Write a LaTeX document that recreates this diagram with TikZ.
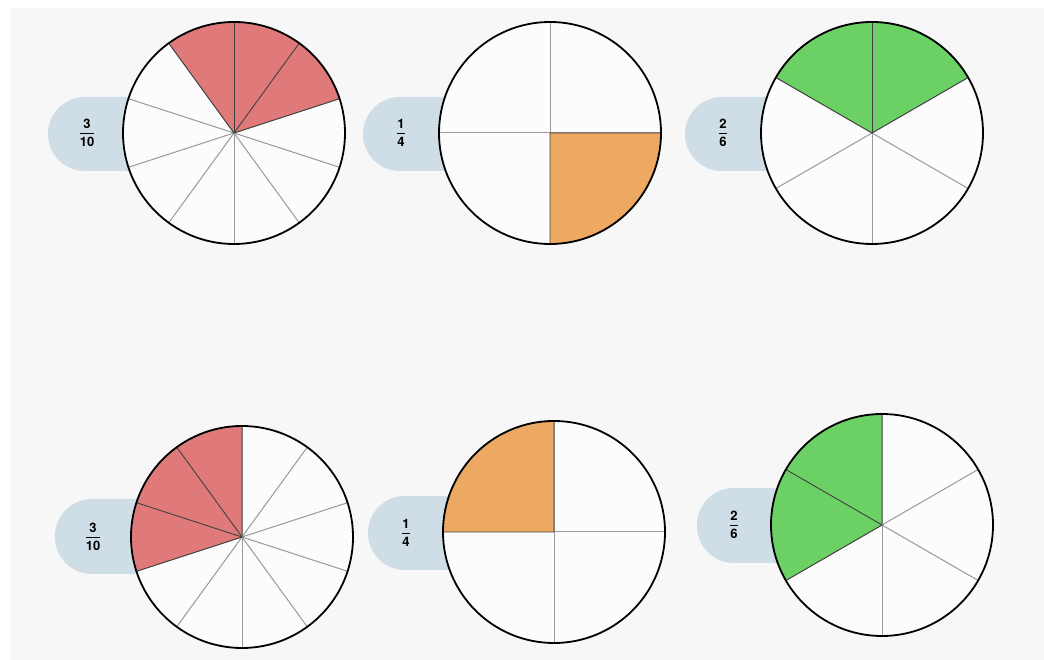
\documentclass[tikz,border=0pt]{standalone}
\usepackage{amsmath}
\usepackage{fontspec}
\setmainfont{TeX Gyre Heros}
\usepackage{tikz}

\definecolor{panel}{HTML}{F7F7F7}
\definecolor{pillblue}{HTML}{CFDDE6}
\definecolor{redpart}{HTML}{E07A7A}
\definecolor{orangepart}{HTML}{EDA862}
\definecolor{greenpart}{HTML}{6BD165}

\newcommand{\pieFrac}[2]{$\genfrac{}{}{1.1pt}{0}{\textbf{#1}}{\textbf{#2}}$}

\tikzset{
    pill/.style={fill=pillblue, rounded corners=37pt},
    disc/.style={fill=white!60!panel},
    spoke/.style={draw=black!40, line width=1pt},
    slice/.style={draw=black!75, line width=0.9pt},
    rim/.style={draw=black, line width=1.8pt},
    fraclabel/.style={font=\fontsize{13}{15}\selectfont, inner sep=0pt}
}

\begin{document}
\begin{tikzpicture}[x=1pt, y=1pt]
    \useasboundingbox (0,0) rectangle (1044,660);
    \fill[white] (0,0) rectangle (1044,660);
    \fill[panel] (11,0) rectangle (1044,652);

    % 3/10, top
    \fill[pill] (48,489) rectangle (234,563);
    \node[fraclabel] (f1) at (87,527) {\pieFrac{3}{10}};
    \fill[disc] (234,527) circle (111);
    \foreach \a in {18,54,...,342}
        \draw[spoke] (234,527) -- ++(\a:111);
    \filldraw[slice, fill=redpart] (234,527) -- ++(18:111) arc (18:126:111) -- cycle;
    \foreach \a in {54,90}
        \draw[slice] (234,527) -- ++(\a:111);
    \draw[rim] (234,527) circle (111);

    % 1/4, top
    \fill[pill] (363,489) rectangle (550,563);
    \node[fraclabel] (f2) at (401,527) {\pieFrac{1}{4}};
    \fill[disc] (550,527) circle (111);
    \foreach \a in {0,90,...,270}
        \draw[spoke] (550,527) -- ++(\a:111);
    \filldraw[slice, fill=orangepart] (550,527) -- ++(270:111) arc (270:360:111) -- cycle;
    \draw[rim] (550,527) circle (111);

    % 2/6, top
    \fill[pill] (685,489) rectangle (872,563);
    \node[fraclabel] (f3) at (723,527) {\pieFrac{2}{6}};
    \fill[disc] (872,527) circle (111);
    \foreach \a in {30,90,...,330}
        \draw[spoke] (872,527) -- ++(\a:111);
    \filldraw[slice, fill=greenpart] (872,527) -- ++(30:111) arc (30:150:111) -- cycle;
    \draw[slice] (872,527) -- ++(90:111);
    \draw[rim] (872,527) circle (111);

    % 3/10, bottom
    \fill[pill] (55,86) rectangle (242,161);
    \node[fraclabel] (f4) at (93,123) {\pieFrac{3}{10}};
    \fill[disc] (242,123) circle (111);
    \foreach \a in {18,54,...,342}
        \draw[spoke] (242,123) -- ++(\a:111);
    \filldraw[slice, fill=redpart] (242,123) -- ++(90:111) arc (90:198:111) -- cycle;
    \foreach \a in {126,162}
        \draw[slice] (242,123) -- ++(\a:111);
    \draw[rim] (242,123) circle (111);

    % 1/4, bottom
    \fill[pill] (368,90) rectangle (554,164);
    \node[fraclabel] (f5) at (406,127) {\pieFrac{1}{4}};
    \fill[disc] (554,128) circle (111);
    \foreach \a in {0,90,...,270}
        \draw[spoke] (554,128) -- ++(\a:111);
    \filldraw[slice, fill=orangepart] (554,128) -- ++(90:111) arc (90:180:111) -- cycle;
    \draw[rim] (554,128) circle (111);

    % 2/6, bottom
    \fill[pill] (697,97) rectangle (882,172);
    \node[fraclabel] (f6) at (734,135) {\pieFrac{2}{6}};
    \fill[disc] (882,135) circle (111);
    \foreach \a in {30,90,...,330}
        \draw[spoke] (882,135) -- ++(\a:111);
    \filldraw[slice, fill=greenpart] (882,135) -- ++(90:111) arc (90:210:111) -- cycle;
    \draw[slice] (882,135) -- ++(150:111);
    \draw[rim] (882,135) circle (111);
\end{tikzpicture}
\end{document}
